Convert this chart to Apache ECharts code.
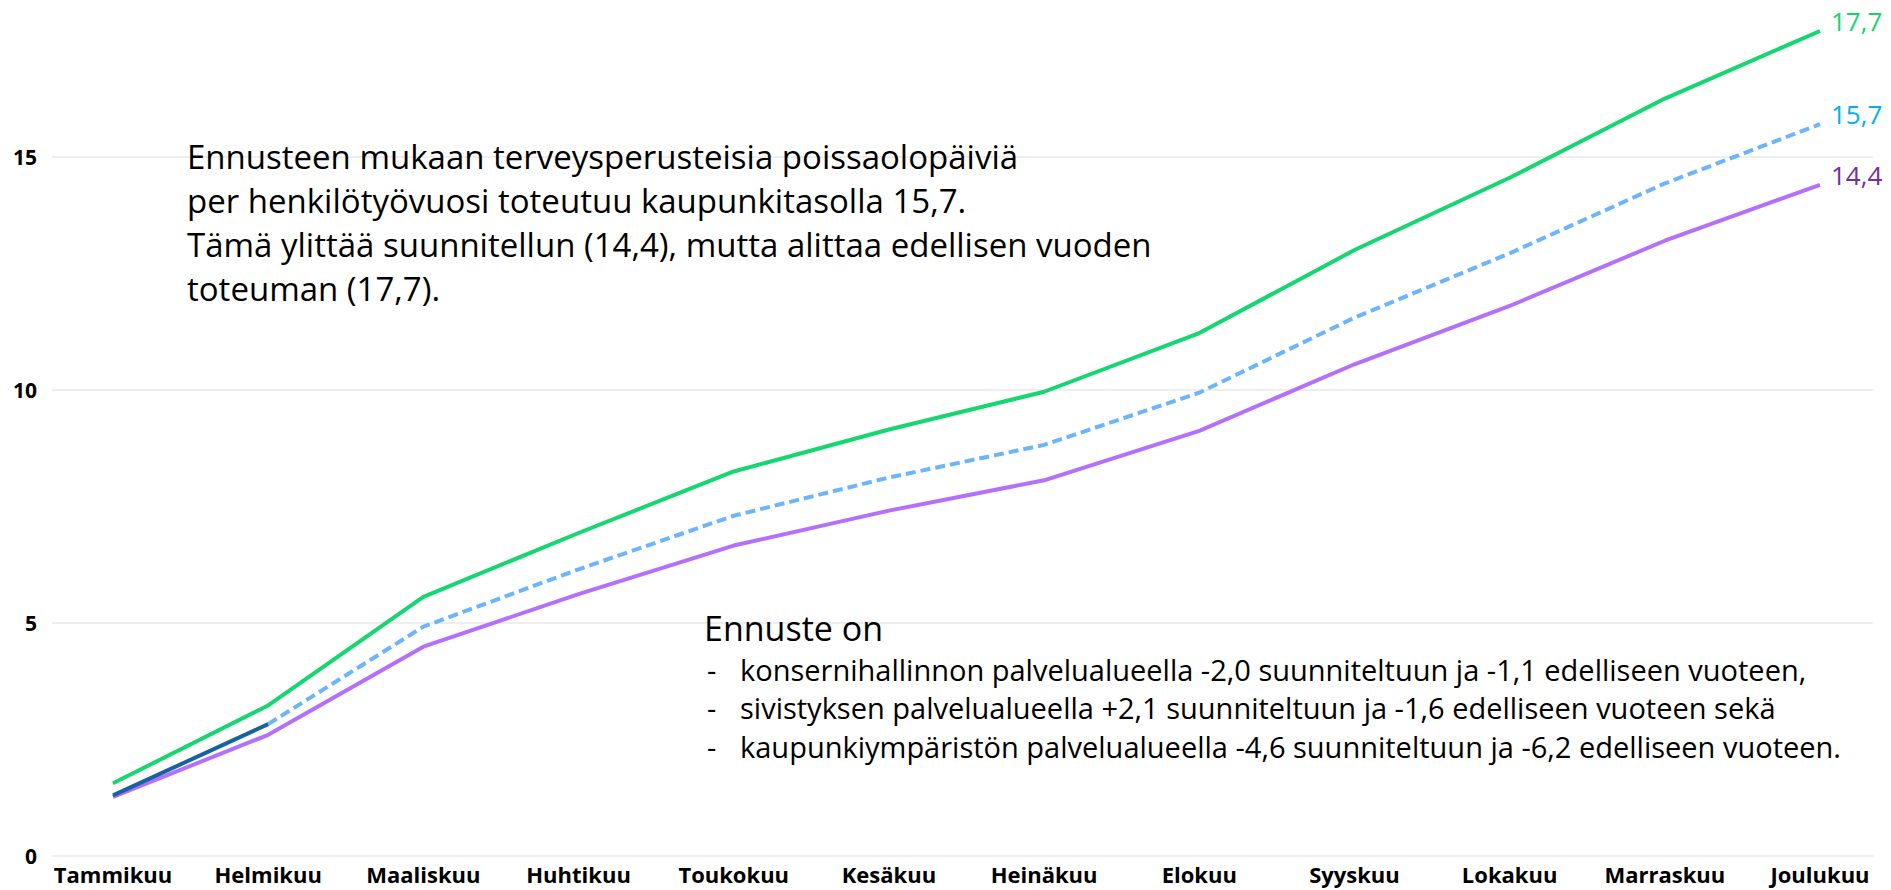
<!DOCTYPE html>
<html>
<head>
<meta charset="utf-8">
<script src="https://cdn.jsdelivr.net/npm/echarts@6/dist/echarts.min.js"></script>
<style>
html,body{margin:0;padding:0;background:#fff;}
#chart{width:1891px;height:890px;}
</style>
</head>
<body>
<div id="chart"></div>
<script>
const months = ['Tammikuu','Helmikuu','Maaliskuu','Huhtikuu','Toukokuu','Kesäkuu','Heinäkuu','Elokuu','Syyskuu','Lokakuu','Marraskuu','Joulukuu'];
const previousYear = [1.56, 3.23, 5.56, 6.93, 8.25, 9.15, 9.96, 11.22, 13.0, 14.55, 16.25, 17.7];
const planned = [1.27, 2.6, 4.49, 5.62, 6.66, 7.41, 8.06, 9.12, 10.55, 11.8, 13.2, 14.4];
const forecast = [null, 2.83, 4.92, 6.15, 7.3, 8.12, 8.82, 9.94, 11.55, 12.93, 14.43, 15.7];
const actual = [1.30, 2.83, null, null, null, null, null, null, null, null, null, null];
const endLabels = ['17,7', '15,7', '14,4'];
const yTicks = [0, 5, 10, 15];

const mainText = [
  'Ennusteen mukaan terveysperusteisia poissaolopäiviä',
  'per henkilötyövuosi toteutuu kaupunkitasolla 15,7.',
  'Tämä ylittää suunnitellun (14,4), mutta alittaa edellisen vuoden',
  'toteuman (17,7).'
];
const noteTitle = 'Ennuste on';
const noteLines = [
  'konsernihallinnon palvelualueella -2,0 suunniteltuun ja -1,1 edelliseen vuoteen,',
  'sivistyksen palvelualueella +2,1 suunniteltuun ja -1,6 edelliseen vuoteen sekä',
  'kaupunkiympäristön palvelualueella -4,6 suunniteltuun ja -6,2 edelliseen vuoteen.'
];

const FONT = '"Open Sans", "Noto Sans", sans-serif';

function endLabel(text, color) {
  return {
    show: true, distance: 11, offset: [0, -10],
    formatter: text, color: color, fontSize: 26, fontFamily: FONT
  };
}

const chart = echarts.init(document.getElementById('chart'), null, {renderer: 'svg'});
chart.setOption({
  animation: false,
  backgroundColor: '#ffffff',
  grid: [
    {left: 52, right: 18, top: 17, bottom: 34},
    {left: 113, right: 71, top: 17, bottom: 34}
  ],
  xAxis: [
    {gridIndex: 0, type: 'value', min: 0, max: 1, show: false},
    {gridIndex: 1, type: 'category', data: months, boundaryGap: false,
     axisLine: {show: false}, axisTick: {show: false},
     axisLabel: {color: '#000', fontSize: 22, fontWeight: 'bold', fontFamily: FONT, margin: 7, interval: 0},
     splitLine: {show: false}}
  ],
  yAxis: [
    {gridIndex: 0, type: 'value', min: 0, max: 18, interval: 5,
     axisLine: {show: false}, axisTick: {show: false},
     axisLabel: {color: '#000', fontSize: 21, fontWeight: 'bold', fontFamily: FONT, margin: 15,
                 showMaxLabel: false,
                 formatter: v => (yTicks.indexOf(v) >= 0 ? String(v) : '')},
     splitLine: {show: true, showMaxLine: false, lineStyle: {color: '#e8e8e8', width: 1.5}}},
    {gridIndex: 1, type: 'value', min: 0, max: 18, show: false, splitLine: {show: false}}
  ],
  series: [
    {name: 'Edellinen vuosi', type: 'line', xAxisIndex: 1, yAxisIndex: 1,
     data: previousYear, endLabel: endLabel(endLabels[0], '#14d46f'),
     symbol: 'none', lineStyle: {color: '#14d770', width: 4}, itemStyle: {color: '#14d770'}},
    {name: 'Suunniteltu', type: 'line', xAxisIndex: 1, yAxisIndex: 1,
     data: planned, endLabel: endLabel(endLabels[2], '#7030a0'),
     symbol: 'none', lineStyle: {color: '#b470fb', width: 4}, itemStyle: {color: '#b470fb'}},
    {name: 'Ennuste', type: 'line', xAxisIndex: 1, yAxisIndex: 1,
     data: forecast, endLabel: endLabel(endLabels[1], '#00b0f0'),
     symbol: 'none', lineStyle: {color: '#6cb4fb', width: 4, type: [10, 5]}, itemStyle: {color: '#6cb4fb'}},
    {name: 'Toteuma', type: 'line', xAxisIndex: 1, yAxisIndex: 1,
     data: actual, symbol: 'none', connectNulls: false,
     lineStyle: {color: '#1763a0', width: 4}, itemStyle: {color: '#1763a0'}}
  ],
  graphic: [
    {type: 'text', left: 187, top: 134, z: 10,
     style: {text: mainText.join('\n'), font: '33px ' + FONT, lineHeight: 44, fill: '#000'}},
    {type: 'text', left: 704, top: 606, z: 10,
     style: {text: noteTitle, font: '34px ' + FONT, lineHeight: 44, fill: '#000'}},
    {type: 'text', left: 707, top: 650, z: 10,
     style: {text: ['-', '-', '-'].join('\n'), font: '29px ' + FONT, lineHeight: 38.5, fill: '#000'}},
    {type: 'text', left: 740, top: 650, z: 10,
     style: {text: noteLines.join('\n'), font: '29px ' + FONT, lineHeight: 38.5, fill: '#000'}}
  ]
});
</script>
</body>
</html>
